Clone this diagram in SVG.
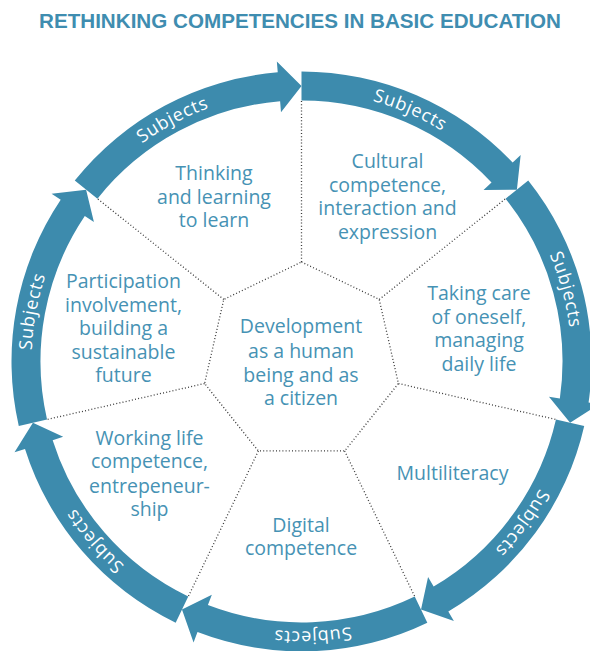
<svg xmlns="http://www.w3.org/2000/svg" xmlns:xlink="http://www.w3.org/1999/xlink" width="590" height="651" viewBox="0 0 590 651">
  <style>
    .ring { fill: #3d8bad; }
    .lbl { fill: #ffffff; font-family: "Open Sans", "Noto Sans", sans-serif; font-size: 18px; letter-spacing: 0.8px; }
    .txt { fill: #4692b4; font-family: "Open Sans", "Noto Sans", sans-serif; font-size: 19.5px; text-anchor: middle; }
    .title { fill: #3f8db0; font-family: "Liberation Sans", Arial, sans-serif; font-size: 21px; font-weight: bold; text-anchor: middle; }
    .dot { fill: none; stroke: #3a3a3a; stroke-width: 1.3; stroke-dasharray: 1 2.2; }
  </style>
  <defs>
    <path id="arrow" d="M -226.73,-180.81 A 290 290 0 0 1 -23.76,-289.03 L -24.66,-299.99 L 0,-275.5 L -20.49,-249.16 L -21.39,-260.12 A 261 261 0 0 0 -204.06,-162.73 Z"/>
    <path id="lp" d="M -211.09,-168.34 A 270 270 0 0 1 -22.12,-269.09"/>
  </defs>

  <text class="title" x="300" y="27.5" textLength="522" lengthAdjust="spacingAndGlyphs">RETHINKING COMPETENCIES IN BASIC EDUCATION</text>

  <g id="ring" transform="translate(301.5,361.4)">
    <g id="arrow1"><use xlink:href="#arrow" href="#arrow" class="ring"/><text class="lbl"><textPath xlink:href="#lp" href="#lp" startOffset="50%" text-anchor="middle">Subjects</textPath></text></g>
    <g id="arrow2" transform="rotate(51.4286)"><use xlink:href="#arrow" href="#arrow" class="ring"/><text class="lbl"><textPath xlink:href="#lp" href="#lp" startOffset="50%" text-anchor="middle">Subjects</textPath></text></g>
    <g id="arrow3" transform="rotate(102.8571)"><use xlink:href="#arrow" href="#arrow" class="ring"/><text class="lbl"><textPath xlink:href="#lp" href="#lp" startOffset="50%" text-anchor="middle">Subjects</textPath></text></g>
    <g id="arrow4" transform="rotate(154.2857)"><use xlink:href="#arrow" href="#arrow" class="ring"/><text class="lbl"><textPath xlink:href="#lp" href="#lp" startOffset="50%" text-anchor="middle">Subjects</textPath></text></g>
    <g id="arrow5" transform="rotate(205.7143)"><use xlink:href="#arrow" href="#arrow" class="ring"/><text class="lbl"><textPath xlink:href="#lp" href="#lp" startOffset="50%" text-anchor="middle">Subjects</textPath></text></g>
    <g id="arrow6" transform="rotate(257.1429)"><use xlink:href="#arrow" href="#arrow" class="ring"/><text class="lbl"><textPath xlink:href="#lp" href="#lp" startOffset="50%" text-anchor="middle">Subjects</textPath></text></g>
    <g id="arrow7" transform="rotate(308.5714)"><use xlink:href="#arrow" href="#arrow" class="ring"/><text class="lbl"><textPath xlink:href="#lp" href="#lp" startOffset="50%" text-anchor="middle">Subjects</textPath></text></g>
  </g>

  <g id="connectors">
    <polygon class="dot" points="301.5,262 379.21,299.42 398.41,383.52 344.63,450.96 258.37,450.96 204.59,383.52 223.79,299.42"/>
    <line class="dot" x1="301.5" y1="262" x2="301.5" y2="100.4"/>
    <line class="dot" x1="379.21" y1="299.42" x2="505.56" y2="198.67"/>
    <line class="dot" x1="398.41" y1="383.52" x2="555.96" y2="419.48"/>
    <line class="dot" x1="344.63" y1="450.96" x2="414.74" y2="596.55"/>
    <line class="dot" x1="258.37" y1="450.96" x2="188.26" y2="596.55"/>
    <line class="dot" x1="204.59" y1="383.52" x2="47.04" y2="419.48"/>
    <line class="dot" x1="223.79" y1="299.42" x2="97.44" y2="198.67"/>
  </g>

  <g id="thinking">
    <text class="txt" x="214" y="179.5">Thinking</text>
    <text class="txt" x="214" y="203.5">and learning</text>
    <text class="txt" x="214" y="227.3">to learn</text>
  </g>
  <g id="cultural">
    <text class="txt" x="387.5" y="167.7">Cultural</text>
    <text class="txt" x="387.5" y="191.7">competence,</text>
    <text class="txt" x="387.5" y="215.3">interaction and</text>
    <text class="txt" x="387.5" y="239.3">expression</text>
  </g>
  <g id="takingcare">
    <text class="txt" x="479" y="300">Taking care</text>
    <text class="txt" x="479" y="323.5">of oneself,</text>
    <text class="txt" x="479" y="347">managing</text>
    <text class="txt" x="479" y="370.7">daily life</text>
  </g>
  <g id="multiliteracy">
    <text class="txt" x="452.5" y="480">Multiliteracy</text>
  </g>
  <g id="digital">
    <text class="txt" x="301" y="531.7">Digital</text>
    <text class="txt" x="301" y="555.3">competence</text>
  </g>
  <g id="working">
    <text class="txt" x="149.5" y="444.5">Working life</text>
    <text class="txt" x="149.5" y="468.3">competence,</text>
    <text class="txt" x="149.5" y="492.5">entrepeneur-</text>
    <text class="txt" x="149.5" y="516.3">ship</text>
  </g>
  <g id="participation">
    <text class="txt" x="123.5" y="288.3">Participation</text>
    <text class="txt" x="123.5" y="311.8">involvement,</text>
    <text class="txt" x="123.5" y="335.3">building a</text>
    <text class="txt" x="123.5" y="358.8">sustainable</text>
    <text class="txt" x="123.5" y="382.3">future</text>
  </g>
  <g id="development">
    <text class="txt" x="301" y="333.3">Development</text>
    <text class="txt" x="301" y="358">as a human</text>
    <text class="txt" x="301" y="381.7">being and as</text>
    <text class="txt" x="301" y="405">a citizen</text>
  </g>
</svg>
